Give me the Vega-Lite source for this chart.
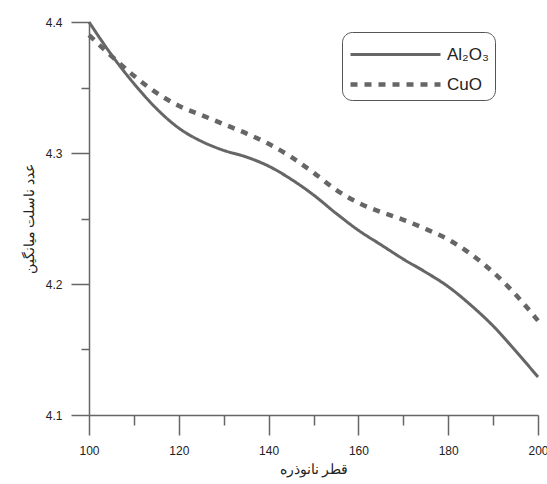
{
  "$schema": "https://vega.github.io/schema/vega-lite/v6.json",
  "width": 449,
  "height": 393,
  "autosize": {"type": "none"},
  "padding": {"left": 89, "top": 22, "right": 9, "bottom": 69},
  "config": {"view": {"stroke": null}, "font": "Liberation Sans"},
  "data": {"values": [
    {"d": 100, "v": 4.400, "s": "Al₂O₃"},
    {"d": 105, "v": 4.375, "s": "Al₂O₃"},
    {"d": 110, "v": 4.353, "s": "Al₂O₃"},
    {"d": 115, "v": 4.334, "s": "Al₂O₃"},
    {"d": 120, "v": 4.319, "s": "Al₂O₃"},
    {"d": 125, "v": 4.309, "s": "Al₂O₃"},
    {"d": 130, "v": 4.302, "s": "Al₂O₃"},
    {"d": 135, "v": 4.297, "s": "Al₂O₃"},
    {"d": 140, "v": 4.290, "s": "Al₂O₃"},
    {"d": 145, "v": 4.280, "s": "Al₂O₃"},
    {"d": 150, "v": 4.268, "s": "Al₂O₃"},
    {"d": 155, "v": 4.254, "s": "Al₂O₃"},
    {"d": 160, "v": 4.241, "s": "Al₂O₃"},
    {"d": 165, "v": 4.230, "s": "Al₂O₃"},
    {"d": 170, "v": 4.219, "s": "Al₂O₃"},
    {"d": 175, "v": 4.209, "s": "Al₂O₃"},
    {"d": 180, "v": 4.198, "s": "Al₂O₃"},
    {"d": 185, "v": 4.184, "s": "Al₂O₃"},
    {"d": 190, "v": 4.168, "s": "Al₂O₃"},
    {"d": 195, "v": 4.149, "s": "Al₂O₃"},
    {"d": 200, "v": 4.129, "s": "Al₂O₃"},
    {"d": 100, "v": 4.390, "s": "CuO"},
    {"d": 105, "v": 4.374, "s": "CuO"},
    {"d": 110, "v": 4.359, "s": "CuO"},
    {"d": 115, "v": 4.346, "s": "CuO"},
    {"d": 120, "v": 4.336, "s": "CuO"},
    {"d": 125, "v": 4.329, "s": "CuO"},
    {"d": 130, "v": 4.322, "s": "CuO"},
    {"d": 135, "v": 4.315, "s": "CuO"},
    {"d": 140, "v": 4.307, "s": "CuO"},
    {"d": 145, "v": 4.297, "s": "CuO"},
    {"d": 150, "v": 4.285, "s": "CuO"},
    {"d": 155, "v": 4.272, "s": "CuO"},
    {"d": 160, "v": 4.262, "s": "CuO"},
    {"d": 165, "v": 4.255, "s": "CuO"},
    {"d": 170, "v": 4.249, "s": "CuO"},
    {"d": 175, "v": 4.242, "s": "CuO"},
    {"d": 180, "v": 4.234, "s": "CuO"},
    {"d": 185, "v": 4.223, "s": "CuO"},
    {"d": 190, "v": 4.209, "s": "CuO"},
    {"d": 195, "v": 4.192, "s": "CuO"},
    {"d": 200, "v": 4.172, "s": "CuO"}
  ]},
  "mark": {"type": "line", "interpolate": "monotone", "color": "#666", "strokeCap": "butt"},
  "encoding": {
    "x": {
      "field": "d", "type": "quantitative",
      "scale": {"domain": [100, 200], "nice": false, "zero": false},
      "axis": {
        "values": [100, 110, 120, 130, 140, 150, 160, 170, 180, 190, 200],
        "grid": false,
        "domainColor": "#666", "domainWidth": 1.5,
        "tickColor": "#666", "tickWidth": 1.5,
        "tickSize": {"condition": {"test": "datum.value % 20 === 0", "value": 20}, "value": 10},
        "labelExpr": "datum.value % 20 === 0 ? datum.label : ''",
        "labelFontSize": 12, "labelColor": "#222", "labelPadding": 10, "labelFlush": false,
        "title": "قطر نانوذره", "titleFontSize": 14, "titleFontWeight": "normal", "titleColor": "#222", "titlePadding": 6
      }
    },
    "y": {
      "field": "v", "type": "quantitative",
      "scale": {"domain": [4.1, 4.4], "nice": false, "zero": false},
      "axis": {
        "values": [4.1, 4.15, 4.2, 4.25, 4.3, 4.35, 4.4],
        "grid": false,
        "format": ".1f",
        "domainColor": "#666", "domainWidth": 1.5,
        "tickColor": "#666", "tickWidth": 1.5,
        "tickSize": {"condition": {"test": "abs(datum.value * 10 - round(datum.value * 10)) < 0.001", "value": 18}, "value": 8},
        "labelExpr": "abs(datum.value * 10 - round(datum.value * 10)) < 0.001 ? datum.label : ''",
        "labelFontSize": 12, "labelColor": "#222", "labelPadding": 9, "labelFlush": false,
        "title": "عدد ناسلت میانگین", "titleFontSize": 14, "titleFontWeight": "normal", "titleColor": "#222", "titlePadding": 9
      }
    },
    "strokeWidth": {
      "field": "s", "type": "nominal",
      "scale": {"domain": ["Al₂O₃", "CuO"], "range": [3, 4.5]},
      "legend": null
    },
    "strokeDash": {
      "field": "s", "type": "nominal",
      "scale": {"domain": ["Al₂O₃", "CuO"], "range": [[1, 0], [7, 7]]},
      "legend": {
        "orient": "none", "legendX": 253, "legendY": 10,
        "title": null,
        "strokeColor": "#555", "cornerRadius": 10, "padding": 6, "fillColor": "white",
        "symbolType": "M-3,0H3", "symbolSize": 900, "symbolStrokeWidth": 3.5, "symbolStrokeColor": "#666",
        "symbolOffset": 30,
        "labelFontSize": 17, "labelFont": "Liberation Sans", "labelColor": "#222",
        "rowPadding": 4, "labelOffset": 34
      }
    }
  }
}
